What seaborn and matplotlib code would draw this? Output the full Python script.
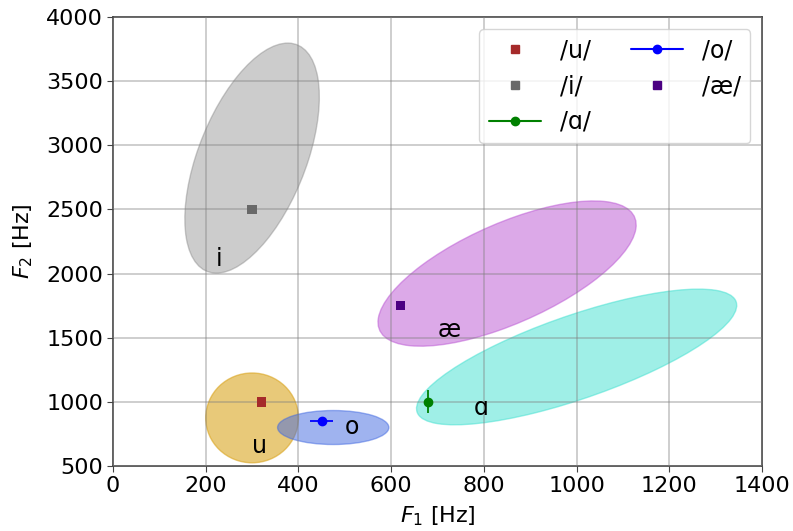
import numpy as np
import pandas as pd
import matplotlib
matplotlib.use('Agg')
import matplotlib.pyplot as plt
import seaborn as sns
from matplotlib.patches import Ellipse
from matplotlib.lines import Line2D

# medias de formantes (Hz)
vowels = ['u', 'i', 'ɑ', 'o', 'æ']
f1_mean = [320, 300, 680, 450, 620]
f2_mean = [1000, 2500, 1000, 850, 1750]
f1_err = [0, 0, 0, 25, 0]
f2_err = [0, 0, 90, 0, 0]
point_colors = ['brown', 'dimgray', 'green', 'blue', 'indigo']
point_markers = ['s', 's', 'o', 'o', 's']

# elipses de dispersion
ell_vowels = ['i', 'u', 'o', 'æ', 'ɑ']
ell_cx = [300, 300, 475, 850, 1000]
ell_cy = [2900, 875, 800, 2000, 1350]
ell_w = [1800, 200, 240, 1200, 1200]
ell_h = [245, 700, 265, 390, 395]
ell_angle = [85, 0, 0, 69.5, 60]
ell_colors = ['gray', 'goldenrod', 'royalblue', 'mediumorchid', 'turquoise']
ell_alpha = [0.4, 0.6, 0.5, 0.5, 0.5]

# etiquetas de texto
lbl_text = ['i', 'u', 'o', 'æ', 'ɑ']
lbl_x = [228, 315, 515, 725, 795]
lbl_y = [2110, 655, 805, 1560, 955]

sns.set_style('whitegrid')
plt.rcParams['font.family'] = ['DejaVu Sans']
plt.rcParams['text.color'] = 'black'
plt.rcParams['axes.labelcolor'] = 'black'
plt.rcParams['xtick.color'] = 'black'
plt.rcParams['ytick.color'] = 'black'

fig, ax = plt.subplots(figsize=(7.93, 5.31), dpi=100)
fig.subplots_adjust(left=0.1425, right=0.961, top=0.968, bottom=0.1224)

for cx, cy, w, h, a, c, al in zip(ell_cx, ell_cy, ell_w, ell_h, ell_angle, ell_colors, ell_alpha):
    e = Ellipse((cx, cy), w, h, angle=a, facecolor=c, edgecolor=c, alpha=al, lw=1, zorder=1)
    ax.add_patch(e)

df = pd.DataFrame({'vowel': vowels, 'F1': f1_mean, 'F2': f2_mean})
handles = []
for i, v in enumerate(vowels):
    if f1_err[i] or f2_err[i]:
        ax.errorbar(f1_mean[i], f2_mean[i],
                    xerr=f1_err[i] if f1_err[i] else None,
                    yerr=f2_err[i] if f2_err[i] else None,
                    fmt='o', color=point_colors[i], ms=6, elinewidth=1.3, zorder=3)
        handles.append(Line2D([], [], color=point_colors[i], marker='o', ms=6, lw=1.5, label='/' + v + '/'))
    else:
        sns.scatterplot(data=df[df['vowel'] == v], x='F1', y='F2', marker=point_markers[i],
                        color=point_colors[i], s=45, edgecolor='none', ax=ax, zorder=3)
        handles.append(Line2D([], [], color=point_colors[i], marker='s', ms=6, lw=0, label='/' + v + '/'))

for t, x, y in zip(lbl_text, lbl_x, lbl_y):
    ax.text(x, y, t, fontsize=17, ha='center', va='center', zorder=4)

ax.set_xlim(0, 1400)
ax.set_ylim(500, 4000)
ax.set_xticks(np.arange(0, 1401, 200))
ax.set_yticks(np.arange(500, 4001, 500))
ax.tick_params(labelsize=16, length=4, color='#444444', left=True, bottom=True, pad=3)
ax.set_xlabel('$F_1$ [Hz]', fontsize=16, labelpad=6)
ax.set_ylabel('$F_2$ [Hz]', fontsize=16, labelpad=8)
ax.set_axisbelow(False)
ax.grid(True, color='gray', alpha=0.45, lw=1.2, zorder=2)
for s in ax.spines.values():
    s.set_color('#444444')
    s.set_linewidth(1.2)

ax.legend(handles=handles, ncol=2, loc='upper right', fontsize=17, frameon=True,
          columnspacing=1.7, handlelength=2.2, handletextpad=0.8)

fig.savefig('out.png', dpi=100)
